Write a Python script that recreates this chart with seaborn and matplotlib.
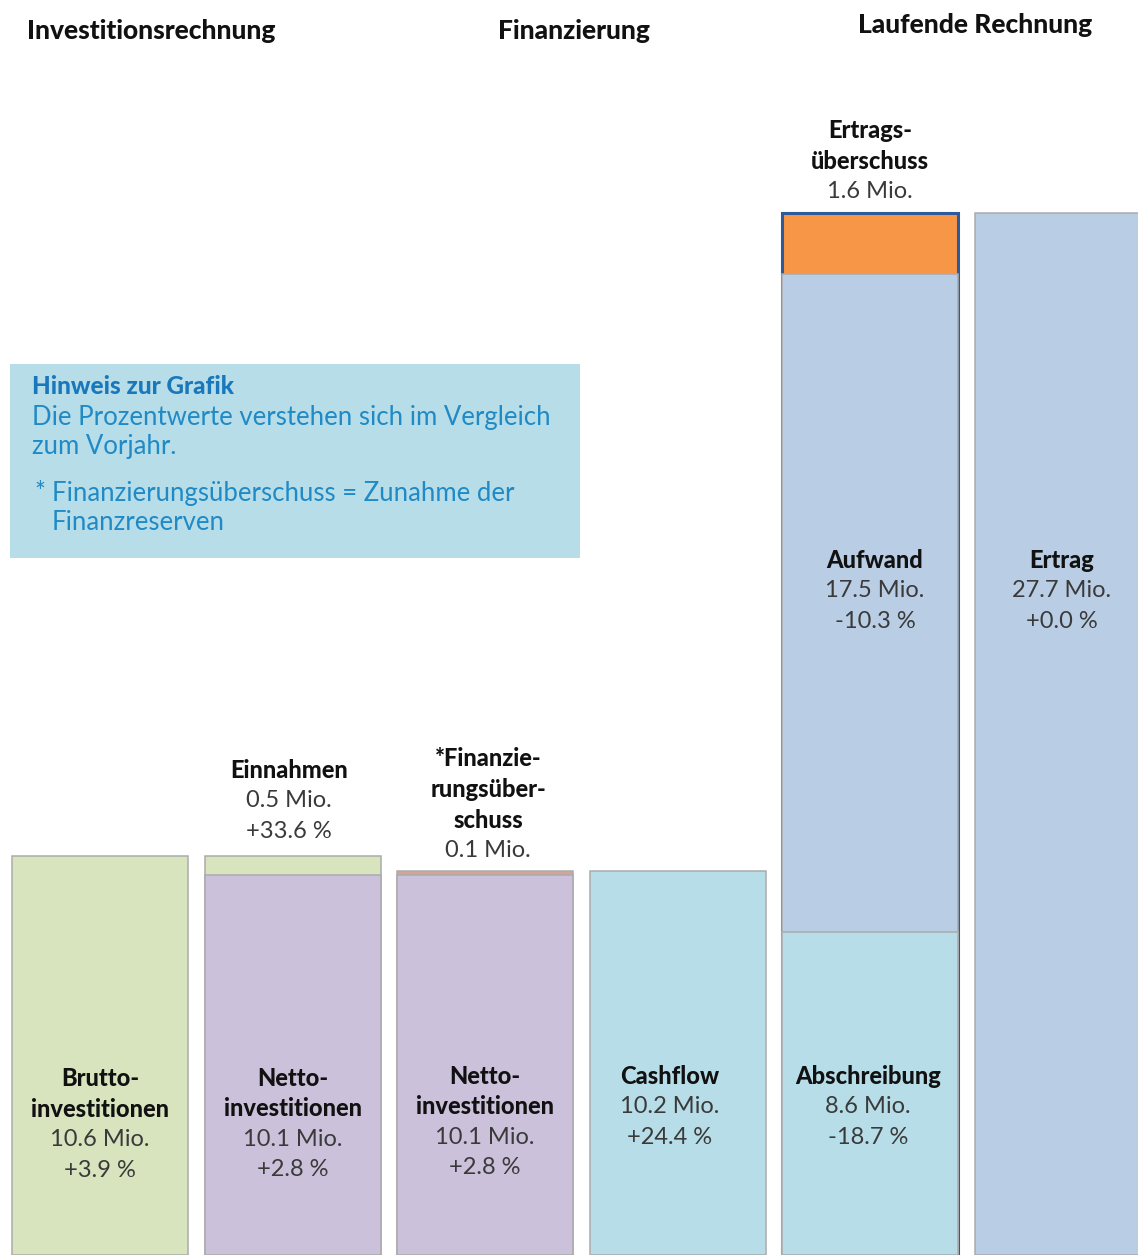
import numpy as np
import pandas as pd
import matplotlib
matplotlib.use("Agg")
import matplotlib.pyplot as plt
import seaborn as sns
from matplotlib.patches import Rectangle

sns.set_theme(style="white")
plt.rcParams['font.family'] = ['Lato', 'DejaVu Sans']

# ---------------- data ----------------
columns = ["Brutto", "Netto1", "Netto2", "Cashflow", "Aufwand", "Ertrag"]
# stacked segments per column (bottom -> top), values in Mio.
seg_column = ["Brutto", "Netto1", "Netto1", "Netto2", "Netto2", "Cashflow",
              "Aufwand", "Aufwand", "Aufwand", "Ertrag"]
seg_name = ["Bruttoinvestitionen", "Nettoinvestitionen", "Einnahmen",
            "Nettoinvestitionen", "Finanzierungsüberschuss", "Cashflow",
            "Abschreibung", "Aufwand", "Ertragsüberschuss", "Ertrag"]
seg_value = [10.6, 10.1, 0.5, 10.1, 0.1, 10.2, 8.6, 17.5, 1.6, 27.7]

headers = ["Investitionsrechnung", "Finanzierung", "Laufende Rechnung"]

seg_colors = {
    "Bruttoinvestitionen": "#d7e4bd",
    "Einnahmen": "#d7e4bd",
    "Nettoinvestitionen": "#ccc1da",
    "Finanzierungsüberschuss": "#d3a596",
    "Cashflow": "#b7dee8",
    "Abschreibung": "#b7dee8",
    "Aufwand": "#b9cde5",
    "Ertragsüberschuss": "#f79646",
    "Ertrag": "#b9cde5",
}

df = pd.DataFrame({"col": seg_column, "seg": seg_name, "val": seg_value})
df["top"] = df.groupby("col")["val"].cumsum()

# ---------------- figure ----------------
W, H = 1138, 1255
fig = plt.figure(figsize=(W / 100, H / 100), dpi=100)
ax = fig.add_axes([0, 0, 1, 1])

# draw tallest stack tops first so lower segments overlay
for _, r in df.sort_values("top", ascending=False).iterrows():
    ec = "#2e5a9c" if r["seg"] == "Ertragsüberschuss" else "#ababab"
    lw = 2.2 if r["seg"] == "Ertragsüberschuss" else 1.1
    sns.barplot(x=[r["col"]], y=[r["top"]], order=columns, color=seg_colors[r["seg"]],
                width=0.914, edgecolor=ec, linewidth=lw, ax=ax, saturation=1)

ax.set_xlim(-0.52, 5.39)
ax.set_ylim(0, H / 37.6)
ax.axis("off")


def fx(px):
    return px / W


def fy(py):
    return 1 - py / H


TXT = "#3a3a3a"
BOLD_W = "black"


def label(xc, y0, bold_lines, value_lines, step=30.5):
    i = 0
    for t in bold_lines:
        fig.text(fx(xc), fy(y0 + step * i), t, ha="center", va="center",
                 fontsize=17, fontweight=BOLD_W, color="#111111")
        i += 1
    for t in value_lines:
        fig.text(fx(xc), fy(y0 + step * i), t, ha="center", va="center",
                 fontsize=17, color=TXT)
        i += 1


# headers
fig.text(fx(151), fy(31), headers[0], ha="center", va="center", fontsize=19,
         fontweight=BOLD_W, color="#111111")
fig.text(fx(574), fy(31), headers[1], ha="center", va="center", fontsize=19,
         fontweight=BOLD_W, color="#111111")
fig.text(fx(975), fy(25), headers[2], ha="center", va="center", fontsize=19,
         fontweight=BOLD_W, color="#111111")

# labels
label(870, 131, ["Ertrags-", "überschuss"], ["1.6 Mio."])
label(875, 560, ["Aufwand"], ["17.5 Mio.", "-10.3 %"])
label(1062, 560, ["Ertrag"], ["27.7 Mio.", "+0.0 %"])
label(289, 770, ["Einnahmen"], ["0.5 Mio.", "+33.6 %"])
label(488, 759, ["*Finanzie-", "rungsüber-", "schuss"], ["0.1 Mio."])
label(100, 1079, ["Brutto-", "investitionen"], ["10.6 Mio.", "+3.9 %"])
label(293, 1078, ["Netto-", "investitionen"], ["10.1 Mio.", "+2.8 %"])
label(485, 1076, ["Netto-", "investitionen"], ["10.1 Mio.", "+2.8 %"])
label(670, 1076, ["Cashflow"], ["10.2 Mio.", "+24.4 %"])
label(868, 1076, ["Abschreibung"], ["8.6 Mio.", "-18.7 %"])

# note box
fig.patches.append(Rectangle((fx(10), fy(558)), fx(570), (558 - 364) / H,
                             transform=fig.transFigure, facecolor="#b7dde8",
                             edgecolor="none", zorder=0))
BLUE = "#1f8ac6"
fig.text(fx(32), fy(386), "Hinweis zur Grafik", ha="left", va="center",
         fontsize=17.5, fontweight=BOLD_W, color="#1878bb")
fig.text(fx(32), fy(417), "Die Prozentwerte verstehen sich im Vergleich",
         ha="left", va="center", fontsize=18.5, color=BLUE)
fig.text(fx(32), fy(447), "zum Vorjahr.", ha="left", va="center",
         fontsize=18.5, color=BLUE)
fig.text(fx(34), fy(493), "*", ha="left", va="center", fontsize=18.5, color=BLUE)
fig.text(fx(52), fy(493), "Finanzierungsüberschuss = Zunahme der",
         ha="left", va="center", fontsize=18.5, color=BLUE)
fig.text(fx(52), fy(523), "Finanzreserven", ha="left", va="center",
         fontsize=18.5, color=BLUE)

fig.savefig("out.png", dpi=100)
